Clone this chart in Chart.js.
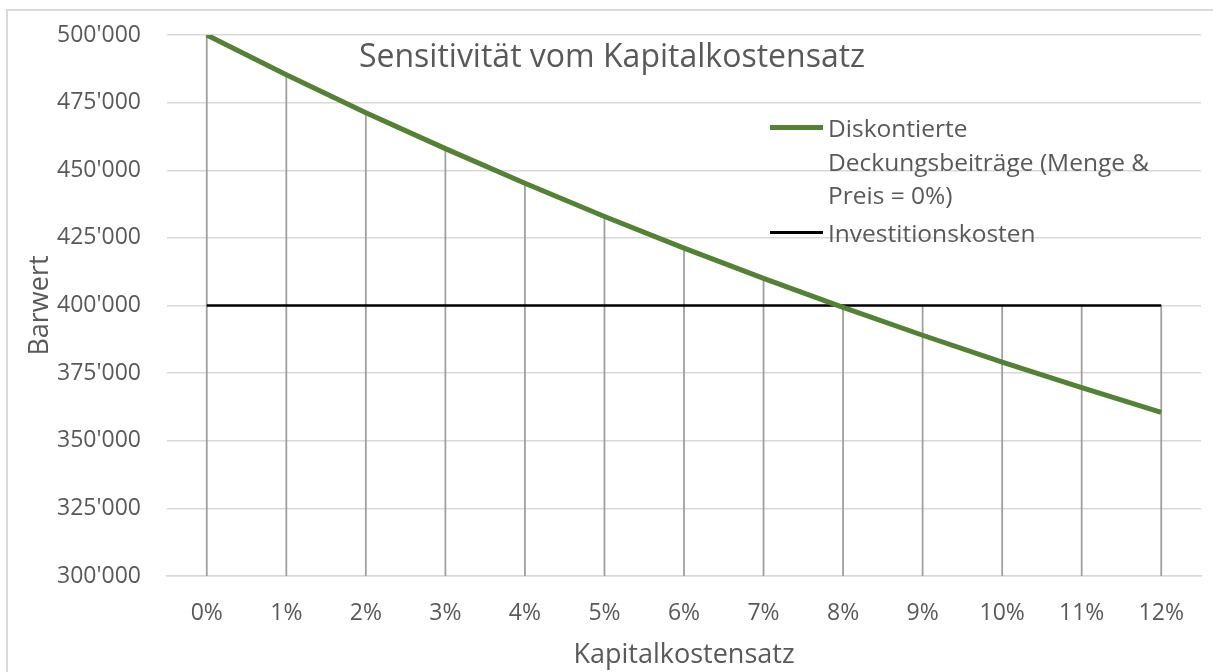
<!DOCTYPE html>
<html lang="de">
<head>
    <meta charset="UTF-8">
    <title>Sensitivität vom Kapitalkostensatz</title>
    <script src="https://cdn.jsdelivr.net/npm/chart.js"></script>
    <style>
        body {
            margin: 0;
            background: #fff;
            font-family: "Open Sans", sans-serif;
            overflow: hidden;
        }
        #wrap {
            position: relative;
            width: 1213px;
            height: 672px;
        }
        #frame {
            position: absolute;
            left: 6px;
            top: 9px;
            width: 1300px;
            height: 800px;
            border-left: 2px solid #d9d9d9;
            border-top: 2px solid #d9d9d9;
        }
        canvas {
            position: absolute;
            left: 0;
            top: 0;
        }
        #title {
            position: absolute;
            left: 0;
            width: 1224px;
            top: 35px;
            text-align: center;
            font-size: 32px;
            color: #595959;
            line-height: 40px;
        }
        .legend {
            position: absolute;
            left: 770px;
            color: #595959;
            font-size: 24.5px;
            line-height: 33.5px;
        }
        .legend .item {
            position: relative;
            padding-left: 58px;
        }
        .legend .swatch {
            position: absolute;
            left: 0;
            width: 53px;
        }
    </style>
</head>
<body>
<div id="wrap">
    <div id="frame"></div>
    <canvas id="chart" width="1213" height="672"></canvas>
    <div id="title">Sensitivität vom Kapitalkostensatz</div>
    <div class="legend" style="top: 111px;">
        <div class="item"><span class="swatch" style="border-top: 5px solid #548235; top: 14px;"></span>Diskontierte<br>Deckungsbeiträge (Menge &amp;<br>Preis = 0%)</div>
    </div>
    <div class="legend" style="top: 216px;">
        <div class="item"><span class="swatch" style="border-top: 3px solid #000; top: 15px;"></span>Investitionskosten</div>
    </div>
</div>

<script>
    // values
    const labels = ['0%', '1%', '2%', '3%', '4%', '5%', '6%', '7%', '8%', '9%', '10%', '11%', '12%'];
    const deckungsbeitraege = [500000, 485300, 471300, 458000, 445200, 432900, 421200, 410000, 399300, 389000, 379100, 369600, 360500];
    const investitionskosten = [400000, 400000, 400000, 400000, 400000, 400000, 400000, 400000, 400000, 400000, 400000, 400000, 400000];
    const yMin = 300000, yMax = 500000, yStep = 25000;

    function formatCH(v) {
        return String(v).replace(/\B(?=(\d{3})+(?!\d))/g, "'");
    }

    // Excel-style drop lines: from the highest point of each category down to the axis
    const dropLines = {
        id: 'dropLines',
        beforeDatasetsDraw(chart) {
            const {ctx, chartArea, scales} = chart;
            ctx.save();
            ctx.strokeStyle = '#a0a0a0';
            ctx.lineWidth = 1.8;
            labels.forEach((l, i) => {
                const top = Math.max(...chart.data.datasets.map(ds => ds.data[i]));
                const x = scales.x.getPixelForValue(i);
                ctx.beginPath();
                ctx.moveTo(x, scales.y.getPixelForValue(top));
                ctx.lineTo(x, chartArea.bottom);
                ctx.stroke();
            });
            ctx.restore();
        }
    };

    const tickFont = {family: '"Open Sans", sans-serif', size: 23};
    const titleFont = {family: '"Open Sans", sans-serif', size: 27};

    new Chart(document.getElementById('chart'), {
        type: 'line',
        data: {
            labels: labels,
            datasets: [{
                label: 'Diskontierte Deckungsbeiträge (Menge & Preis = 0%)',
                data: deckungsbeitraege,
                borderColor: '#548235',
                borderWidth: 5,
                pointRadius: 0,
                tension: 0
            }, {
                label: 'Investitionskosten',
                data: investitionskosten,
                borderColor: '#000000',
                borderWidth: 2.5,
                pointRadius: 0,
                tension: 0
            }]
        },
        plugins: [dropLines],
        options: {
            responsive: false,
            animation: false,
            layout: {
                padding: {top: 35, right: 12, bottom: 0, left: 0}
            },
            plugins: {
                legend: {display: false},
                title: {display: false},
                tooltip: {enabled: false}
            },
            scales: {
                x: {
                    offset: true,
                    grid: {display: false, drawTicks: false},
                    border: {display: true, color: '#d9d9d9', width: 1.5},
                    ticks: {color: '#595959', font: tickFont, padding: 24, maxRotation: 0},
                    title: {display: true, text: 'Kapitalkostensatz', color: '#595959', font: titleFont, padding: {top: 0, bottom: 0}},
                    afterFit(scale) { scale.height = 96; }
                },
                y: {
                    min: yMin,
                    max: yMax,
                    grid: {color: '#d9d9d9', lineWidth: 1.5, drawTicks: false},
                    border: {display: false},
                    ticks: {
                        stepSize: yStep,
                        color: '#595959',
                        font: tickFont,
                        padding: 26,
                        callback: v => formatCH(v)
                    },
                    title: {display: true, text: 'Barwert', color: '#595959', font: titleFont, padding: {top: 24, bottom: 0}},
                    afterFit(scale) {
                        scale.width = 167;
                        scale.paddingTop = 0;
                        scale.paddingBottom = 0;
                    }
                }
            }
        }
    });
</script>
</body>
</html>
